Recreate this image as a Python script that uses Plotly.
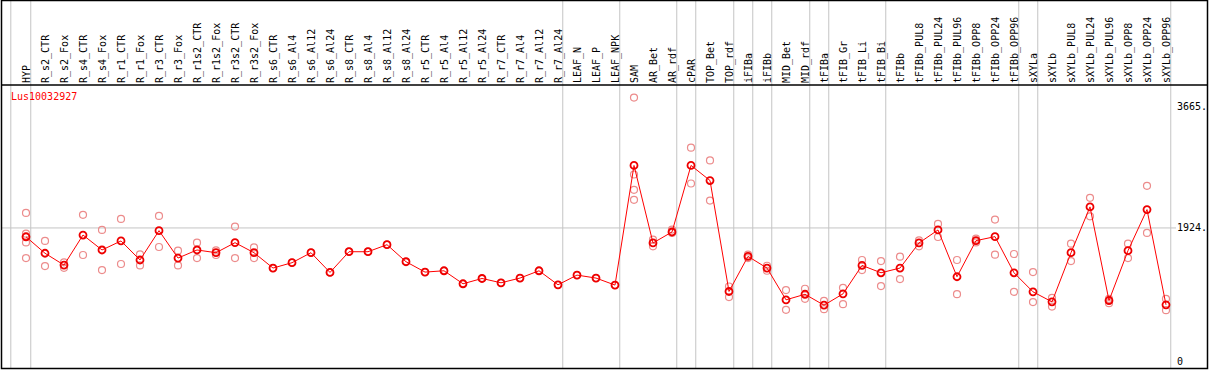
import plotly.graph_objects as go

# ---------------- data ----------------
categories = [
    "HYP", "R_s2_CTR", "R_s2_Fox", "R_s4_CTR", "R_s4_Fox", "R_r1_CTR", "R_r1_Fox",
    "R_r3_CTR", "R_r3_Fox", "R_r1s2_CTR", "R_r1s2_Fox", "R_r3s2_CTR", "R_r3s2_Fox",
    "R_s6_CTR", "R_s6_Al4", "R_s6_Al12", "R_s6_Al24", "R_s8_CTR", "R_s8_Al4",
    "R_s8_Al12", "R_s8_Al24", "R_r5_CTR", "R_r5_Al4", "R_r5_Al12", "R_r5_Al24",
    "R_r7_CTR", "R_r7_Al4", "R_r7_Al12", "R_r7_Al24", "LEAF_N", "LEAF_P", "LEAF_NPK",
    "SAM", "AR_Bet", "AR_rdf", "cPAR", "TOP_Bet", "TOP_rdf", "iFIBa", "iFIBb",
    "MID_Bet", "MID_rdf", "tFIBa", "tFIB_Gr", "tFIB_Li", "tFIB_Bi", "tFIBb",
    "tFIBb_PUL8", "tFIBb_PUL24", "tFIBb_PUL96", "tFIBb_OPP8", "tFIBb_OPP24",
    "tFIBb_OPP96", "sXYLa", "sXYLb", "sXYLb_PUL8", "sXYLb_PUL24", "sXYLb_PUL96",
    "sXYLb_OPP8", "sXYLb_OPP24", "sXYLb_OPP96",
]

mean_values = [
    1797, 1560, 1390, 1822, 1607, 1737, 1463, 1885, 1491, 1607, 1568, 1712, 1568,
    1347, 1424, 1568, 1284, 1582, 1582, 1683, 1438, 1289, 1308, 1121, 1197,
    1135, 1203, 1308, 1106, 1246, 1203, 1102,
    2823, 1708, 1866, 2823, 2606, 1010, 1515, 1347,
    890, 970, 813, 976, 1385, 1279, 1347,
    1708, 1895, 1222, 1741, 1799, 1279,
    1005, 861, 1568, 2227, 880, 1597, 2188, 818,
]

replicates = [
    [2140, 1842, 1716, 1491], [1737, 1376], [1430, 1350], [2112, 1535], [1895, 1318],
    [2054, 1405], [1543, 1385], [2097, 1650], [1597, 1385], [1712, 1491], [1601, 1535],
    [1943, 1491], [1644, 1491],
    [1347], [1424], [1568], [1284], [1582], [1582], [1683], [1438], [1289], [1308],
    [1121], [1197], [1135], [1203], [1308], [1106], [1246], [1203], [1102],
    [3799, 2693, 2472, 2328], [1755, 1659], [1900, 1852], [3078, 2563], [2895, 2318],
    [1082, 929], [1539, 1491], [1380, 1308],
    [1030, 746], [1049, 904], [876, 756], [1063, 828], [1463, 1318], [1448, 1088],
    [1510, 1188],
    [1745, 1659], [1982, 1794], [1463, 972], [1770, 1716], [2044, 1539], [1549, 1005],
    [1289, 857], [919, 793], [1698, 1448], [2357, 2091], [904, 842], [1698, 1491],
    [2530, 1852], [904, 741],
]

# group separators (between category indices)
group_bounds = [-0.8, 0.25, 28.25, 31.25, 34.25, 35.25, 37.25, 38.25, 39.25,
                41.25, 42.25, 45.25, 52.25, 53.25, 60.25]

y_tick_vals = [0, 1924, 3665]
y_tick_text = ["0", "1924.", "3665."]
median_line = 1924
gene_label = "Lus10032927"

# ---------------- layout geometry ----------------
W, H = 1209, 370
ML, MR, MT, MB = 2, 33, 85, 1
plot_w = W - ML - MR
plot_h = H - MT - MB

xs = list(range(len(categories)))
rep_x, rep_y = [], []
for i, reps in enumerate(replicates):
    for v in reps:
        rep_x.append(i)
        rep_y.append(v)

MONO = "DejaVu Sans Mono"

fig = go.Figure()
fig.add_trace(go.Scatter(
    x=rep_x, y=rep_y, mode="markers",
    marker=dict(symbol="circle-open", size=7, color="rgb(236,140,140)",
                line=dict(width=1.2, color="rgb(236,140,140)")),
    hoverinfo="skip", showlegend=False,
))
fig.add_trace(go.Scatter(
    x=xs, y=mean_values, mode="lines+markers",
    line=dict(color="#ff0000", width=1),
    marker=dict(symbol="circle-open", size=7, color="#ee0000",
                line=dict(width=1.8, color="#ee0000")),
    showlegend=False,
))

shapes = []
for b in group_bounds:
    shapes.append(dict(type="line", xref="x", yref="paper", x0=b, x1=b,
                       y0=0, y1=1 + MT / plot_h,
                       line=dict(color="#c4c4c4", width=1), layer="below"))
shapes.append(dict(type="line", xref="paper", yref="y", x0=0, x1=1,
                   y0=median_line, y1=median_line,
                   line=dict(color="#c4c4c4", width=1), layer="below"))
right_paper = (W - 1.5 - ML) / plot_w
top_paper = 1 + (MT - 0.5) / plot_h
shapes.append(dict(type="rect", xref="paper", yref="paper",
                   x0=-0.5 / plot_w, x1=right_paper, y0=0.5 / plot_h, y1=top_paper,
                   line=dict(color="black", width=1.5), fillcolor="rgba(0,0,0,0)"))
shapes.append(dict(type="line", xref="paper", yref="paper",
                   x0=0, x1=right_paper, y0=1, y1=1,
                   line=dict(color="black", width=1.5)))

x_lo = (ML - 26) / 19
x_hi = (ML + plot_w - 26) / 19
y_per_px = 1 / 0.06952
y_lo = -(H - MB - 361.7) * y_per_px
y_hi = (361.7 - MT) * y_per_px

fig.update_layout(
    width=W, height=H,
    margin=dict(l=ML, r=MR, t=MT, b=MB, pad=0),
    paper_bgcolor="white", plot_bgcolor="white",
    template="none",
    showlegend=False,
    shapes=shapes,
    xaxis=dict(
        range=[x_lo, x_hi], side="top", tickmode="array",
        tickvals=xs, ticktext=categories, tickangle=-90,
        tickfont=dict(family=MONO, size=10, color="black"),
        ticklabelshift=1, ticklabelstandoff=1,
        showgrid=False, zeroline=False, showline=False, ticks="",
        automargin=False, fixedrange=True,
    ),
    yaxis=dict(
        range=[y_lo, y_hi], side="right", tickmode="array",
        tickvals=y_tick_vals, ticktext=y_tick_text,
        tickfont=dict(family=MONO, size=10, color="black"),
        showgrid=False, zeroline=False, showline=False, ticks="",
        automargin=False, fixedrange=True,
    ),
    annotations=[dict(
        text=gene_label, xref="paper", yref="paper",
        x=(9 - ML) / plot_w, y=1 - (97 - MT) / plot_h,
        xanchor="left", yanchor="middle", showarrow=False,
        font=dict(family=MONO, size=10, color="red"),
    )],
)

fig.write_html(
    "out.html",
    config={"displayModeBar": False},
    post_script="document.body.style.margin='0';document.body.style.overflow='hidden';",
)
